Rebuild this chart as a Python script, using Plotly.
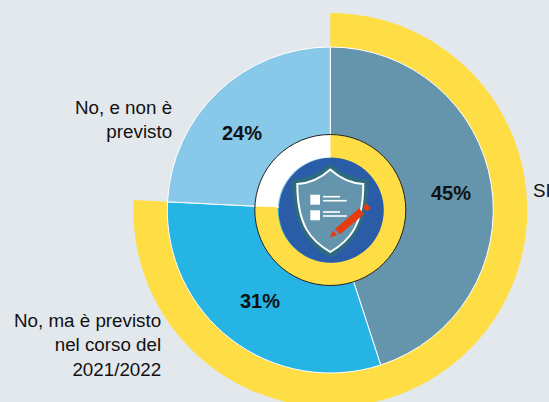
import plotly.graph_objects as go

# main slices, clockwise from 12 o'clock
labels = ["SI", "No, ma è previsto<br>nel corso del<br>2021/2022", "No, e non è<br>previsto"]
values = [45, 30.8, 24.2]
slice_colors = ["#6595AD", "#26B4E4", "#88C8E9"]
# rings: the "yes + planned" share against the rest
ring_values = [75.8, 24.2]

W, H = 549, 440  # taller than the window, the outer ring is cut at the bottom edge
CX, CY = 330.3, 210
YELLOW = "#FFDD44"
BG = "#E3E8ED"
FONT = "Liberation Sans"


def fx(x):
    return x / W


def fy(y):
    return 1 - y / H


def pie_domain(r):
    return dict(x=[fx(CX - r), fx(CX + r)], y=[fy(CY + r), fy(CY - r)])


def path(*cmds):
    out = []
    for c in cmds:
        nums = c[1:]
        pts = " ".join(f"{fx(nums[i]):.5f},{fy(nums[i + 1]):.5f}" for i in range(0, len(nums), 2))
        out.append(f"{c[0]}{pts}")
    return " ".join(out) + " Z"


def shield(top, side_x, shoulder, low, bottom):
    left, right = CX - side_x, CX + side_x
    return path(
        ("M", CX, top),
        ("Q", CX - side_x * 0.45, shoulder - 1, left, shoulder),
        ("C", left, shoulder + 42, left + 14, low, CX, bottom),
        ("C", right - 14, low, right, shoulder + 42, right, shoulder),
        ("Q", CX + side_x * 0.45, shoulder - 1, CX, top),
    )


def poly(*pts):
    return path(("M", *pts[0]), *[("L", *p) for p in pts[1:]])


def line(x0, x1, y, width=1.6):
    return dict(type="line", xref="paper", yref="paper", x0=fx(x0), x1=fx(x1), y0=fy(y), y1=fy(y),
                line=dict(color="white", width=width))


fig = go.Figure()
# outer yellow arc
fig.add_trace(go.Pie(values=ring_values, sort=False, direction="clockwise", rotation=0,
                     hole=163 / 197, domain=pie_domain(197), textinfo="none", showlegend=False,
                     marker=dict(colors=[YELLOW, "rgba(0,0,0,0)"], line=dict(width=0))))
# main slices
fig.add_trace(go.Pie(values=values, sort=False, direction="clockwise", rotation=0,
                     domain=pie_domain(163), textinfo="none", showlegend=False,
                     marker=dict(colors=slice_colors, line=dict(color="white", width=1))))
# inner ring
fig.add_trace(go.Pie(values=ring_values, sort=False, direction="clockwise", rotation=0,
                     hole=52.5 / 75.5, domain=pie_domain(75.5), textinfo="none", showlegend=False,
                     marker=dict(colors=[YELLOW, "white"], line=dict(width=0))))

shapes = [
    dict(type="circle", xref="paper", yref="paper", x0=fx(CX - 75.5), x1=fx(CX + 75.5),
         y0=fy(CY + 75.5), y1=fy(CY - 75.5), line=dict(color="#222222", width=1)),
    dict(type="circle", xref="paper", yref="paper", x0=fx(CX - 51.5), x1=fx(CX + 53.5),
         y0=fy(CY + 52.8), y1=fy(CY - 52.2), fillcolor="#2A5CA8", line=dict(width=0)),
    dict(type="path", xref="paper", yref="paper", path=shield(163.5, 38.5, 179.5, 245, 257.5),
         fillcolor="#2F6B80", line=dict(width=0)),
    dict(type="path", xref="paper", yref="paper", path=shield(169.5, 33, 184, 241, 252),
         fillcolor="#6595AD", line=dict(color="white", width=2)),
    dict(type="rect", xref="paper", yref="paper", x0=fx(310.3), x1=fx(320), y0=fy(204.7), y1=fy(194.7),
         fillcolor="white", line=dict(width=0)),
    dict(type="rect", xref="paper", yref="paper", x0=fx(310.3), x1=fx(320), y0=fy(220.3), y1=fy(210.3),
         fillcolor="white", line=dict(width=0)),
    line(323, 340, 196.7), line(323, 346.7, 200.7), line(323, 340, 212), line(323, 346.7, 216),
    dict(type="path", xref="paper", yref="paper",
         path=poly((335, 229), (340, 234.3), (364, 214.3), (359.3, 208.3)),
         fillcolor="#E63B11", line=dict(width=0)),
    dict(type="path", xref="paper", yref="paper",
         path=poly((362.7, 208.3), (366, 203.3), (371, 208), (367.3, 211.3)),
         fillcolor="#E63B11", line=dict(width=0)),
    dict(type="path", xref="paper", yref="paper",
         path=poly((330, 237.7), (332.7, 230.7), (337.3, 234.7)),
         fillcolor="#E63B11", line=dict(width=0)),
]

annotations = []
for v, (x, y) in zip(values, [(450.5, 193), (260, 301), (242, 133)]):
    annotations.append(dict(text=f"<b>{round(v)}%</b>", x=fx(x), y=fy(y), xref="paper", yref="paper",
                            showarrow=False, xanchor="center", yanchor="middle",
                            font=dict(family=FONT, size=20, color="#111111")))
for text, x, y, anchor in [(labels[0], 531, 190, "left"), (labels[1], 163, 345, "right"),
                           (labels[2], 174, 120, "right")]:
    annotations.append(dict(text=text, x=fx(x), y=fy(y), xref="paper", yref="paper", align=anchor,
                            showarrow=False, xanchor=anchor, yanchor="middle", xshift=0,
                            font=dict(family=FONT, size=18.8, color="#111111")))

fig.update_layout(width=W, height=H, margin=dict(l=0, r=0, t=0, b=0), paper_bgcolor=BG,
                  showlegend=False, shapes=shapes, annotations=annotations)

fig.write_html("out.html", config=dict(displayModeBar=False),
               post_script="document.body.style.margin='0';document.body.style.overflow='hidden';"
                           "document.documentElement.style.overflow='hidden';")
